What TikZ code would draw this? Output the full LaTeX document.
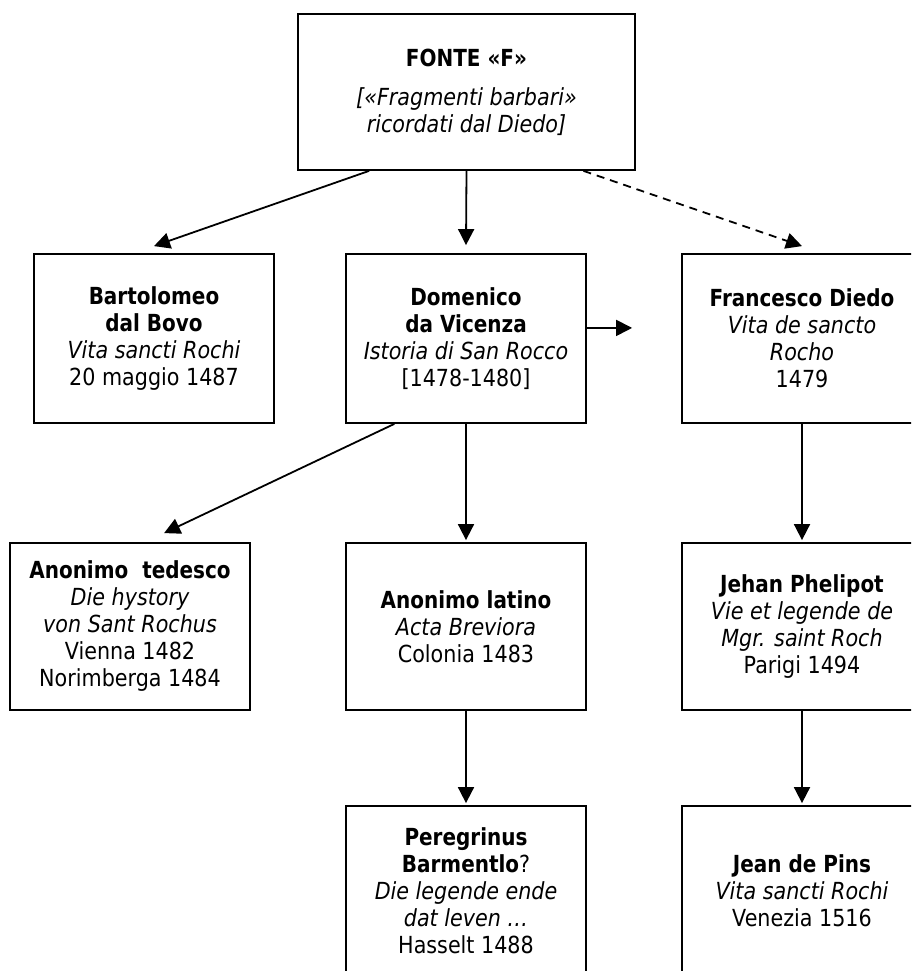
\documentclass[tikz,border=0pt]{standalone}
\usepackage{fontspec}
\setmainfont{DejaVu Sans}[FakeStretch=0.88, BoldFeatures={FakeStretch=0.85}]
\usepackage{tikz}
\usetikzlibrary{arrows.meta}

\begin{document}
\begin{tikzpicture}[x=1pt, y=-1pt, line width=1.8pt, font=\fontsize{23.5}{27}\selectfont]
        % Define styles
        \tikzset{
            source/.style={rectangle, draw, inner sep=0pt, minimum width=337pt, minimum height=156pt},
            work/.style={rectangle, draw, inner sep=0pt, minimum width=240pt, minimum height=169pt},
            late_work/.style={rectangle, draw, inner sep=0pt, minimum width=240pt, minimum height=167pt},
            cut_work/.style={rectangle, draw, inner sep=0pt, minimum width=240pt, minimum height=170pt},
            arrow/.style={-{Triangle[length=16pt,width=16pt]}},
            guess/.style={arrow, dash pattern=on 8pt off 6pt}
        }
        \useasboundingbox (0,0) rectangle (911,971);
        \clip (0,0) rectangle (911,971);

        % Nodes
        \node[source] (fonte_node) at (466.5,92) {\parbox{320pt}{\centering \textbf{FONTE «F»}\\[12pt] \textit{[«Fragmenti barbari»\\ ricordati dal Diedo]}}};

        \node[work] (bovo_node) at (154,338.5) {\parbox{220pt}{\centering \textbf{Bartolomeo\\ dal Bovo}\\ \textit{Vita sancti Rochi}\\ 20 maggio 1487}};
        \node[work] (vicenza_node) at (466,338.5) {\parbox{220pt}{\centering \textbf{Domenico\\ da Vicenza}\\ \textit{Istoria di San Rocco}\\ {[1478-1480]}}};
        \node[work] (diedo_node) at (802,338.5) {\parbox{220pt}{\centering \textbf{Francesco Diedo}\\ \textit{Vita de sancto\\ Rocho}\\ 1479}};

        % row 3
        \node[late_work] (tedesco_node) at (130,626.5) {\parbox{220pt}{\centering \textbf{Anonimo\ \ tedesco}\\ \textit{Die hystory\\ von Sant Rochus}\\ Vienna 1482\\ Norimberga 1484}};
        \node[late_work] (latino_node) at (466,626.5) {\parbox{220pt}{\centering \textbf{Anonimo latino}\\ \textit{Acta Breviora}\\ Colonia 1483}};
        \node[late_work] (phelipot_node) at (802,626.5) {\parbox{220pt}{\centering \textbf{Jehan Phelipot}\\ \textit{Vie et legende de\\ Mgr. saint Roch}\\ Parigi 1494}};

        % row 4
        \node[cut_work] (barmentlo_node) at (466,891) {\parbox{220pt}{\centering \textbf{Peregrinus\\ Barmentlo}?\\ \textit{Die legende ende\\ dat leven …}\\ Hasselt 1488}};
        \node[cut_work] (pins_node) at (802,891) {\parbox{220pt}{\centering \textbf{Jean de Pins}\\ \textit{Vita sancti Rochi}\\ Venezia 1516}};

        % Arrows
        \draw[arrow] (fonte_node.219) -- ([yshift=7pt]bovo_node.north);
        \draw[arrow] (fonte_node.south) -- ([yshift=8pt]vicenza_node.north);
        \draw[guess] (fonte_node.326) -- ([yshift=7pt]diedo_node.north);
        \draw[arrow] (vicenza_node.5) -- ([xshift=-49pt]diedo_node.175);

        \draw[arrow] (vicenza_node.230) -- ([yshift=9pt]tedesco_node.68);
        \draw[arrow] (vicenza_node.south) -- ([yshift=2pt]latino_node.north);
        \draw[arrow] (diedo_node.south) -- ([yshift=2pt]phelipot_node.north);

        \draw[arrow] (latino_node.south) -- ([yshift=2pt]barmentlo_node.north);
        \draw[arrow] (phelipot_node.south) -- ([yshift=2pt]pins_node.north);
\end{tikzpicture}
\end{document}
